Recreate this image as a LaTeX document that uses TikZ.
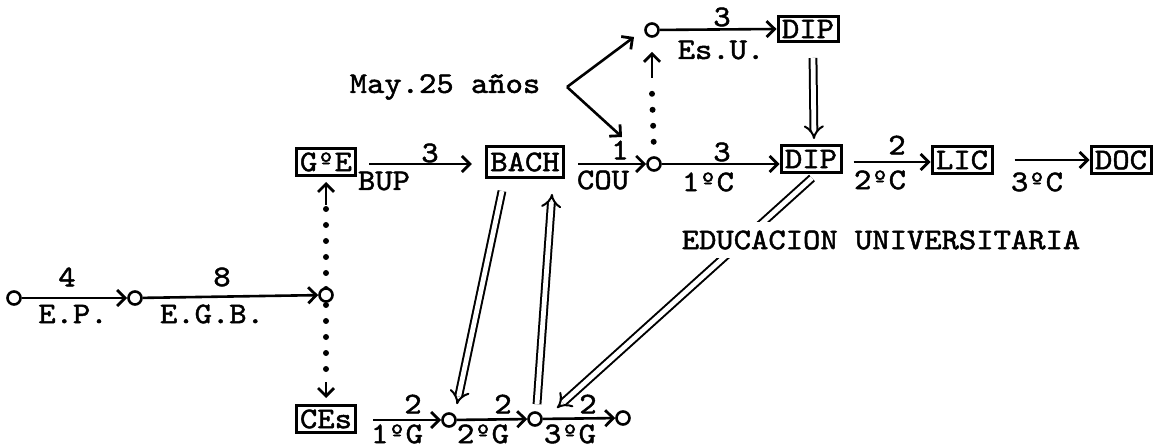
\documentclass[tikz,border=0pt]{standalone}
\usepackage{fontspec}
\setmonofont{lmmono10-regular.otf}[FakeStretch=1.1,FakeBold=1.6]
\usetikzlibrary{arrows.meta,calc,backgrounds}
\begin{document}
\begin{tikzpicture}[x=0.5pt,y=-0.5pt,
  every node/.style={font=\ttfamily\fontsize{15}{18}\selectfont},
  lbl/.style={inner sep=0pt},
  bx/.style={draw, line width=1.5pt, inner xsep=2pt, inner ysep=0pt, minimum height=13.5pt},
  circ/.style={circle, draw, line width=1.3pt, fill=white, minimum size=6.5pt, inner sep=0pt},
  arr/.style={line width=1.3pt, -{Straight Barb[length=4pt,width=8pt,line width=1.4pt]}},
  dbl/.style={double, double distance=2.4pt, line width=1pt, -{Implies}},
  dotline/.style={line width=3pt, line cap=round, dash pattern=on 0pt off 8pt},
]
\useasboundingbox (0,0) rectangle (1160,448);

% nodes
\node[circ] (o1) at (14,298) {};
\node[circ] (o2) at (135,298) {};
\node[circ] (o3) at (326,295) {};
\node[bx] (goe) at (326,162) {GºE};
\node[bx, minimum height=15.5pt] (bach) at (525,162) {BACH};
\node[circ] (o4) at (654,164) {};
\node[circ] (o5) at (652,30) {};
\node[bx, minimum height=12.5pt] (tdip) at (808,29) {DIP};
\node[bx] (ldip) at (811,159) {DIP};
\node[bx] (lic) at (962,160) {LIC};
\node[bx] (doc) at (1121,160) {DOC};
\node[bx] (ces) at (326,419) {CEs};
\node[circ] (o6) at (449,420) {};
\node[circ] (o7) at (535,419) {};
\node[circ] (o8) at (623,418) {};

% labels
\node[lbl] (l4) at (67,277) {4};
\node[lbl] (lep) at (73,314) {E.P.};
\node[lbl] (l8) at (222,277) {8};
\node[lbl] (legb) at (212,314) {E.G.B.};
\node[lbl] (l3a) at (430,153) {3};
\node[lbl] (lbup) at (384,181) {BUP};
\node[lbl] (l1) at (620,150) {1};
\node[lbl] (lcou) at (603,180) {COU};
\node[lbl] (l3b) at (722,152) {3};
\node[lbl] (l1c) at (708,182) {1ºC};
\node[lbl] (l2a) at (897,145) {2};
\node[lbl] (l2c) at (880,180) {2ºC};
\node[lbl] (l3c) at (1037,182) {3ºC};
\node[lbl] (l3d) at (722,17) {3};
\node[lbl] (lesu) at (721,50) {Es.U.};
\node[lbl] (may) at (445,87) {May.25 años};
\coordinate (v) at (567,87);
\node[lbl] (g2a) at (413,404) {2};
\node[lbl] (g1g) at (397,434) {1ºG};
\node[lbl] (g2b) at (503,404) {2};
\node[lbl] (g2g) at (483,434) {2ºG};
\node[lbl] (g2c) at (588,404) {2};
\node[lbl] (g3g) at (570,434) {3ºG};
\node[lbl, fill=white, inner xsep=2pt, inner ysep=4pt] (edu) at (881,240) {EDUCACION UNIVERSITARIA};

% single arrows
\draw[arr] (o1) -- (o2);
\draw[arr] (o2) -- (o3);
\draw[arr] ($(goe.east)+(12,2)$) -- ($(bach.west)+(-13,2)$);
\draw[arr] ($(bach.east)+(13,2)$) -- (o4);
\draw[arr] (o4) -- (ldip.west |- o4);
\draw[arr] ($(ldip.east)+(11,3)$) -- ($(lic.west)+(0,2)$);
\draw[arr] ($(lic.east)+(21,0)$) -- (doc.west);
\draw[arr] (o5) -- (tdip.west);
\draw[arr] ($(ces.east)+(16,1)$) -- (o6);
\draw[arr] (o6) -- (o7);
\draw[arr] (o7) -- (o8);
\draw[arr] (v) -- ($(o5)+(-18,7)$);
\draw[arr] (v) -- ($(o4)+(-32,-27)$);

% dotted links with arrows
\draw[arr] ($(goe.south)+(0,28)$) -- ($(goe.south)+(0,5)$);
\draw[arr] ($(ces.north)+(0,-22)$) -- ($(ces.north)+(0,-6)$);
\draw[arr] ($(o5.south)+(0,40)$) -- ($(o5.south)+(0,14)$);

% double lines
\draw[dbl] ($(tdip.south)+(5,15)$) -- ($(ldip.north)+(3,-5)$);
\draw[dbl] ($(bach.south)+(-23,12)$) -- ($(o6.north)+(8,-8)$);
\draw[dbl] ($(o7.north)+(2,-7)$) -- ($(bach.south)+(27,15)$);

\begin{scope}[on background layer]
\draw[dotline] ($(goe.south)+(0,32)$) -- ($(ces.north)+(0,-24)$);
\draw[dotline] ($(o5.south)+(0,56)$) -- ($(o4.north)+(0,-6)$);
\draw[dbl] ($(ldip.south)+(1,4)$) -- ($(o7)+(22,-11)$);
\end{scope}
\end{tikzpicture}
\end{document}
